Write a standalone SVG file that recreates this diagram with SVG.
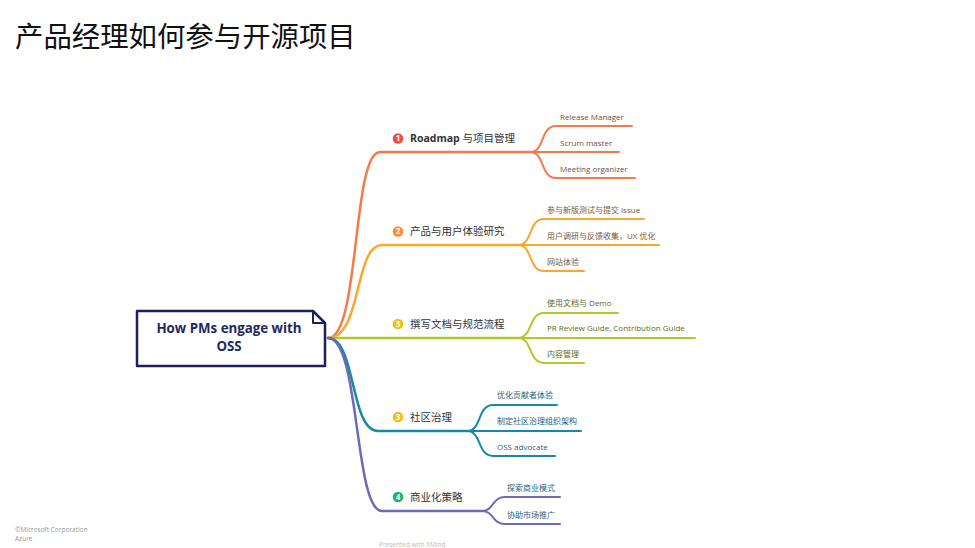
<svg xmlns="http://www.w3.org/2000/svg" width="975" height="548" viewBox="0 0 975 548">
<style>
.t{font-family:"Open Sans","Noto Sans CJK SC",sans-serif}
.main{font-size:10.5px;fill:#333}
.sub{font-size:8px}
.ic{font-size:8px;font-weight:700;fill:#fff;text-anchor:middle}
.br{fill:none;stroke-width:2.5;stroke-linecap:round}
.sb{fill:none;stroke-width:2;stroke-linecap:round}
</style>
<rect width="975" height="548" fill="#fff"/>
<text class="t" x="15" y="47" font-size="28.4" fill="#111" font-family="'Noto Sans CJK SC',sans-serif">产品经理如何参与开源项目</text>

<g id="connectors">
  <path class="br" stroke="#F47A4C" d="M328,338 C360,338 352,152 380,152 L530,152"/>
  <path class="sb" stroke="#F47A4C" d="M530,152 C545,152 540,126 556,126 L632,126"/>
  <path class="sb" stroke="#F47A4C" d="M530,152 L619,152"/>
  <path class="sb" stroke="#F47A4C" d="M530,152 C545,152 540,178 556,178 L635,178"/>
  <path class="br" stroke="#FBA72B" d="M328,338 C362,338 354,245 382,245 L518,245"/>
  <path class="sb" stroke="#FBA72B" d="M518,245 C533,245 528,219 544,219 L644,219"/>
  <path class="sb" stroke="#FBA72B" d="M518,245 L659,245"/>
  <path class="sb" stroke="#FBA72B" d="M518,245 C533,245 528,271 544,271 L584,271"/>
  <path class="br" stroke="#B5C52A" d="M328,338 L518,338"/>
  <path class="sb" stroke="#B5C52A" d="M518,338 C533,338 528,313 544,313 L618,313"/>
  <path class="sb" stroke="#B5C52A" d="M518,338 L695,338"/>
  <path class="sb" stroke="#B5C52A" d="M518,338 C533,338 528,363 544,363 L584,363"/>
  <path class="br" stroke="#138AA6" d="M328,338 C356,338 350,431 378,431 L467,431"/>
  <path class="sb" stroke="#138AA6" d="M467,431 C482,431 477,405 493,405 L557,405"/>
  <path class="sb" stroke="#138AA6" d="M467,431 L581,431"/>
  <path class="sb" stroke="#138AA6" d="M467,431 C482,431 477,456 493,456 L555,456"/>
  <path class="br" stroke="#6E6AB8" d="M328,338 C360,338 354,511 382,511 L482,511"/>
  <path class="sb" stroke="#6E6AB8" d="M482,511 C494,511 492,497 505,497 L560,497"/>
  <path class="sb" stroke="#6E6AB8" d="M482,511 C494,511 492,524 505,524 L560,524"/>
</g>

<g id="root">
  <path d="M137,311 L313,311 L325,323 L325,366 L137,366 Z" fill="#fff" stroke="#1C215C" stroke-width="2.5" stroke-linejoin="round"/>
  <path d="M313,311 L313,323 L325,323" fill="none" stroke="#1C215C" stroke-width="2" stroke-linejoin="round"/>
  <text class="t" x="229" y="333" font-size="13.3" font-weight="700" fill="#1E2A5E" text-anchor="middle">How PMs engage with</text>
  <text class="t" x="229" y="351" font-size="13.3" font-weight="700" fill="#1E2A5E" text-anchor="middle">OSS</text>
</g>

<g id="topic1">
  <circle cx="398" cy="138.5" r="5.3" fill="#EF4B4B"/>
  <text class="t ic" x="398" y="141.3">1</text>
  <text class="t main" x="410" y="142"><tspan font-weight="700">Roadmap</tspan> 与项目管理</text>
</g>
<g id="t1a"><text class="t sub" x="560" y="120" fill="#7B4B3A">Release Manager</text></g>
<g id="t1b"><text class="t sub" x="560" y="146" fill="#7B4B3A">Scrum master</text></g>
<g id="t1c"><text class="t sub" x="560" y="172" fill="#7B4B3A">Meeting organizer</text></g>

<g id="topic2">
  <circle cx="398" cy="231.5" r="5.3" fill="#FF8A3D"/>
  <text class="t ic" x="398" y="234.3">2</text>
  <text class="t main" x="410" y="235">产品与用户体验研究</text>
</g>
<g id="t2a"><text class="t sub" x="547" y="213" fill="#7B5A32">参与新版测试与提交 issue</text></g>
<g id="t2b"><text class="t sub" x="547" y="239" fill="#7B5A32">用户调研与反馈收集，UX 优化</text></g>
<g id="t2c"><text class="t sub" x="547" y="265" fill="#7B5A32">网站体验</text></g>

<g id="topic3">
  <circle cx="398" cy="324" r="5.3" fill="#F2C014"/>
  <text class="t ic" x="398" y="326.8">3</text>
  <text class="t main" x="410" y="328">撰写文档与规范流程</text>
</g>
<g id="t3a"><text class="t sub" x="547" y="306" fill="#5A6B25">使用文档与 Demo</text></g>
<g id="t3b"><text class="t sub" x="547" y="331" fill="#5A6B25">PR Review Guide, Contribution Guide</text></g>
<g id="t3c"><text class="t sub" x="547" y="357" fill="#5A6B25">内容管理</text></g>

<g id="topic4">
  <circle cx="398" cy="417" r="5.3" fill="#F2C014"/>
  <text class="t ic" x="398" y="419.8">3</text>
  <text class="t main" x="410" y="421">社区治理</text>
</g>
<g id="t4a"><text class="t sub" x="497" y="398" fill="#1F5F7A">优化贡献者体验</text></g>
<g id="t4b"><text class="t sub" x="497" y="424" fill="#1F5F7A">制定社区治理组织架构</text></g>
<g id="t4c"><text class="t sub" x="497" y="450" fill="#1F5F7A">OSS advocate</text></g>

<g id="topic5">
  <circle cx="398" cy="497" r="5.3" fill="#1DB56A"/>
  <text class="t ic" x="398" y="499.8">4</text>
  <text class="t main" x="410" y="501">商业化策略</text>
</g>
<g id="t5a"><text class="t sub" x="507" y="491" fill="#2F5F78">探索商业模式</text></g>
<g id="t5b"><text class="t sub" x="507" y="518" fill="#2F5F78">协助市场推广</text></g>

<text class="t" x="15" y="532" font-size="6.5" fill="#999">©Microsoft Corporation</text>
<text class="t" x="15" y="541" font-size="6.5" fill="#999">Azure</text>
<text class="t" x="379" y="547" font-size="6.5" fill="#bbb">Presented with XMind</text>
</svg>
